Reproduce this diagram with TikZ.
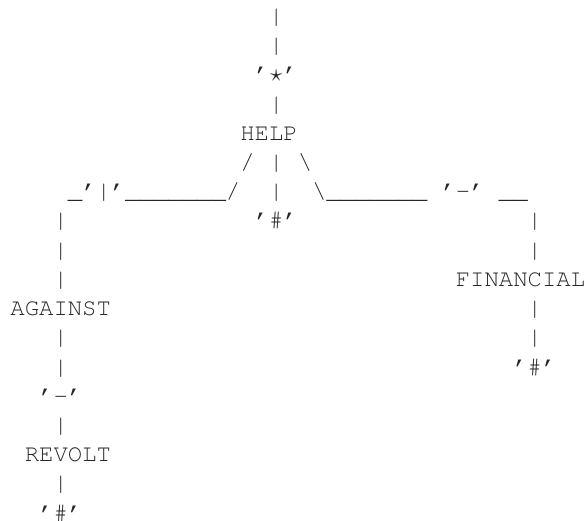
\documentclass[tikz,border=0pt]{standalone}
\usepackage[T1]{fontenc}
\begin{document}
% character grid: column pitch, row pitch and origin of the first baseline
\newcommand\colw{14.37}
\newcommand\rowh{29.2}
\newcommand\monofont{\fontencoding{T1}\fontfamily{pcr}\fontseries{m}\fontshape{n}\fontsize{23.95}{29.2}\selectfont}
\tikzset{
  glyph/.style={anchor=base west, inner sep=0pt, outer sep=0pt, font=\monofont, text=black!85},
}
% \cell{name}{column}{row}{text}
\newcommand\cell[4]{\node[glyph] (#1) at ({10.4+\colw*#2},{496.4-\rowh*#3}) {#4};}
\begin{tikzpicture}[x=1pt,y=1pt]
\useasboundingbox (0,0) rectangle (584,520);
% trunk above HELP
\cell{t0}{18}{0}{|}
\cell{t1}{18}{1}{|}
\cell{sl}{17}{2}{'}
\node[glyph, anchor=base] (star) at ({10.4+\colw*18.5},{496.4-\rowh*2}) {$\star$};
\cell{sr}{19}{2}{'}
\cell{t3}{18}{3}{|}
\cell{help}{16}{4}{HELP}
% fork below HELP
\cell{fork}{16}{5}{/ | \textbackslash}
\cell{lbar}{4}{6}{\_'|'\_\_\_\_\_\_\_/}
\cell{mbar}{18}{6}{|}
\cell{rbar}{21}{6}{\textbackslash\_\_\_\_\_\_\_}
\cell{rdash}{30}{6}{'-'}
\cell{rtail}{34}{6}{\_\_}
\cell{mend}{17}{7}{'\#'}
% left branch
\cell{l7}{3}{7}{|}
\cell{l8}{3}{8}{|}
\cell{l9}{3}{9}{|}
\cell{against}{0}{10}{AGAINST}
\cell{l11}{3}{11}{|}
\cell{l12}{3}{12}{|}
\cell{ldash}{2}{13}{'-'}
\cell{l14}{3}{14}{|}
\cell{revolt}{1}{15}{REVOLT}
\cell{l16}{3}{16}{|}
\cell{lend}{2}{17}{'\#'}
% right branch
\cell{r7}{36}{7}{|}
\cell{r8}{36}{8}{|}
\cell{financial}{31}{9}{FINANCIAL}
\cell{r10}{36}{10}{|}
\cell{r11}{36}{11}{|}
\cell{rend}{35}{12}{'\#'}
\end{tikzpicture}
\end{document}
